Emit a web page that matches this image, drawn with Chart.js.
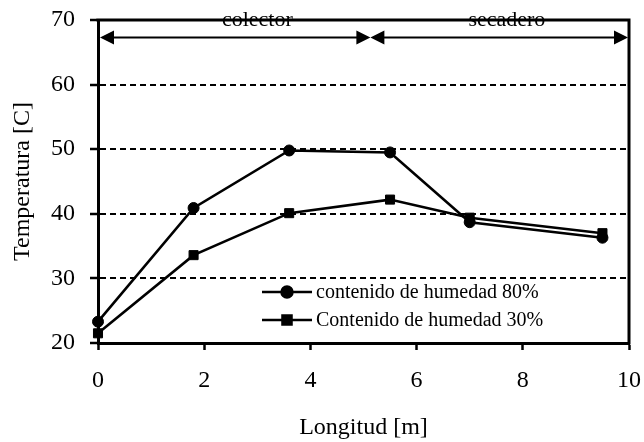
<!DOCTYPE html>
<html>
<head>
<meta charset="utf-8">
<script src="https://cdn.jsdelivr.net/npm/chart.js@4.4.1/dist/chart.umd.min.js"></script>
<style>
  html, body { margin: 0; padding: 0; background: #fff; }
  #wrap { width: 644px; height: 442px; }
</style>
</head>
<body>
<div id="wrap"><canvas id="tempChart" width="644" height="442"></canvas></div>
<script>
// datos
const lengthM = [0, 1.8, 3.6, 5.5, 7.0, 9.5];
const temp80 = [23.3, 40.9, 49.8, 49.5, 38.7, 36.3];
const temp30 = [21.5, 33.6, 40.1, 42.2, 39.4, 37.0];
const seriesNames = ["contenido de humedad 80%", "Contenido de humedad 30%"];

// zonas (colector / secadero) marcadas con flechas arriba
const zoneNames = ["colector", "secadero"];
const zoneBounds = [0, 5.13, 10];
const zoneLabelX = [3.0, 7.7];
const zoneArrowY = 67.3;

const xTicks = [0, 2, 4, 6, 8, 10];
const yTicks = [20, 30, 40, 50, 60, 70];

const FONT = "Liberation Serif";
Chart.defaults.font.family = FONT;
Chart.defaults.color = "#000";

function toPoints(xs, ys) {
    return xs.map((x, i) => ({ x: x, y: ys[i] }));
}

function arrowHead(ctx, x, y, dir) {
    ctx.beginPath();
    ctx.moveTo(x, y);
    ctx.lineTo(x + dir * 14, y - 7);
    ctx.lineTo(x + dir * 14, y + 7);
    ctx.closePath();
    ctx.fill();
}

// marco, flechas y leyenda
const extrasPlugin = {
    id: "extras",
    afterDraw(chart) {
        const ctx = chart.ctx;
        const area = chart.chartArea;
        const xs = chart.scales.x;
        const ys = chart.scales.y;

        ctx.save();
        // marco superior y derecho
        ctx.strokeStyle = "#000";
        ctx.lineWidth = 3;
        ctx.beginPath();
        ctx.moveTo(area.left - 1.5, area.top);
        ctx.lineTo(area.right, area.top);
        ctx.lineTo(area.right, area.bottom + 1.5);
        ctx.stroke();

        // flechas de zonas
        const ay = ys.getPixelForValue(zoneArrowY);
        ctx.lineWidth = 2;
        ctx.fillStyle = "#000";
        for (let i = 0; i < zoneNames.length; i++) {
            const x1 = xs.getPixelForValue(zoneBounds[i]) + (i === 0 ? 2 : 0);
            const x2 = xs.getPixelForValue(zoneBounds[i + 1]) - (i === zoneNames.length - 1 ? 1 : 0);
            ctx.beginPath();
            ctx.moveTo(x1 + 8, ay);
            ctx.lineTo(x2 - 8, ay);
            ctx.stroke();
            arrowHead(ctx, x1, ay, 1);
            arrowHead(ctx, x2, ay, -1);

            ctx.font = "22px " + FONT;
            ctx.textAlign = "center";
            ctx.textBaseline = "alphabetic";
            ctx.fillText(zoneNames[i], xs.getPixelForValue(zoneLabelX[i]), area.top + 6);
        }

        // leyenda
        const styles = [
            { pointStyle: "circle", radius: 5.5 },
            { pointStyle: "rect", radius: 6.4 }
        ];
        const lx = area.left + 164;
        const rows = [area.top + 272, area.top + 300];
        ctx.font = "20px " + FONT;
        ctx.textAlign = "left";
        ctx.textBaseline = "middle";
        for (let i = 0; i < seriesNames.length; i++) {
            const y = rows[i];
            ctx.lineWidth = 2.5;
            ctx.beginPath();
            ctx.moveTo(lx, y);
            ctx.lineTo(lx + 50, y);
            ctx.stroke();
            Chart.helpers.drawPoint(ctx, {
                pointStyle: styles[i].pointStyle,
                radius: styles[i].radius,
                rotation: 0,
                borderWidth: 1
            }, lx + 25, y);
            ctx.fill();
            ctx.fillText(seriesNames[i], lx + 54, y + 1);
        }
        ctx.restore();
    }
};

const ctx = document.getElementById("tempChart").getContext("2d");
const tempChart = new Chart(ctx, {
    type: "line",
    data: {
        datasets: [
            {
                label: seriesNames[0],
                data: toPoints(lengthM, temp80),
                borderColor: "#000",
                backgroundColor: "#000",
                borderWidth: 2.6,
                pointStyle: "circle",
                pointRadius: 5.5,
                pointBorderWidth: 1,
                tension: 0,
                clip: false
            },
            {
                label: seriesNames[1],
                data: toPoints(lengthM, temp30),
                borderColor: "#000",
                backgroundColor: "#000",
                borderWidth: 2.6,
                pointStyle: "rect",
                pointRadius: 6.4,
                pointBorderWidth: 1,
                tension: 0,
                clip: false
            }
        ]
    },
    options: {
        responsive: false,
        animation: false,
        layout: { padding: { top: 20, right: 15, left: 0, bottom: 0 } },
        plugins: {
            legend: { display: false },
            tooltip: { enabled: false }
        },
        scales: {
            x: {
                type: "linear",
                min: 0,
                max: 10,
                afterBuildTicks: s => { s.ticks = xTicks.map(v => ({ value: v })); },
                afterFit: s => {
                    s.height = 99;
                    s.paddingLeft = 0;
                    s.paddingRight = 0;
                },
                ticks: { font: { size: 24 }, padding: 16, color: "#000" },
                grid: {
                    drawOnChartArea: false,
                    drawTicks: true,
                    tickLength: 7,
                    tickWidth: 2.5,
                    tickColor: "#000"
                },
                border: { display: true, color: "#000", width: 3 },
                title: {
                    display: true,
                    text: "Longitud [m]",
                    font: { size: 24 },
                    color: "#000",
                    padding: { top: 0, bottom: 0 }
                }
            },
            y: {
                min: 20,
                max: 70,
                afterBuildTicks: s => { s.ticks = yTicks.map(v => ({ value: v })); },
                afterFit: s => {
                    s.width = 98;
                    s.paddingTop = 0;
                    s.paddingBottom = 0;
                },
                ticks: { font: { size: 24 }, padding: 15, color: "#000" },
                grid: {
                    color: c => (c.tick && (c.tick.value === 20 || c.tick.value === 70)) ? "rgba(0,0,0,0)" : "#000",
                    lineWidth: 2,
                    tickLength: 8,
                    tickWidth: 2.5,
                    tickColor: "#000",
                    tickBorderDash: []
                },
                border: { display: true, color: "#000", width: 3, dash: [6, 4] },
                title: {
                    display: true,
                    text: "Temperatura [C]",
                    font: { size: 24 },
                    color: "#000",
                    padding: { top: 8, bottom: 0 }
                }
            }
        }
    },
    plugins: [extrasPlugin]
});
</script>
</body>
</html>
